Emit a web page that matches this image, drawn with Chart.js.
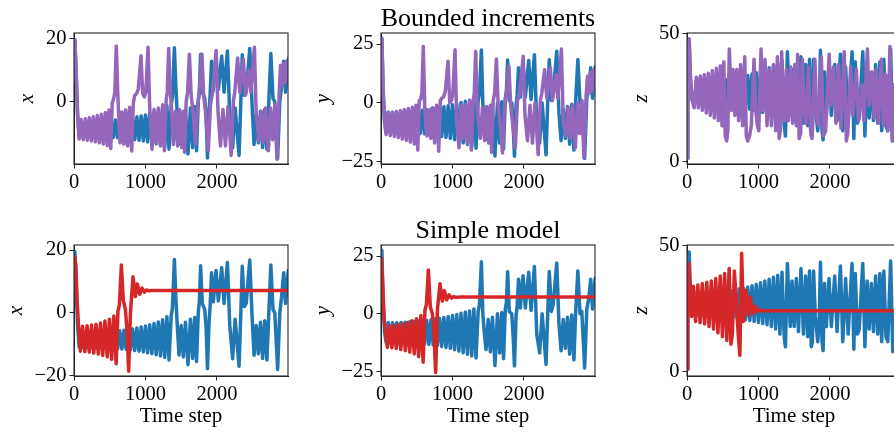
<!DOCTYPE html>
<html lang="en">
<head>
  <meta charset="UTF-8">
  <title>Bounded increments / Simple model</title>
  <script src="https://cdn.jsdelivr.net/npm/chart.js"></script>
  <style>
    html, body { margin: 0; padding: 0; background: #fff; overflow: hidden; width: 894px; height: 432px; }
    canvas { position: absolute; }
  </style>
</head>
<body>
  <canvas id="c1" width="298" height="200" style="left:0px;top:0px"></canvas>
  <canvas id="c2" width="298" height="200" style="left:307px;top:0px"></canvas>
  <canvas id="c3" width="298" height="200" style="left:613px;top:0px"></canvas>
  <canvas id="c4" width="298" height="221" style="left:0px;top:211px"></canvas>
  <canvas id="c5" width="298" height="221" style="left:307px;top:211px"></canvas>
  <canvas id="c6" width="298" height="221" style="left:613px;top:211px"></canvas>

  <script>
    // ---- data ----
    const xTicks = [0, 1000, 2000];
    const xTicksTopLeft = [0, 20];
    const xTicksBottomLeft = [-20, 0, 20];
    const yTicksAll = [-25, 0, 25];
    const zTicksAll = [0, 50];

    // true trajectory (blue), same in both rows
    const trueT = [0, 12, 30, 50, 72,
      100, 130, 160, 190, 220, 250, 280, 310, 340, 370, 400, 430, 460, 490, 520, 550, 580, 610, 640, 670, 700,
      730, 760, 790, 820, 850, 880, 910, 940, 970, 1000, 1030, 1060, 1090, 1120, 1150, 1180, 1210, 1240, 1270, 1300, 1330,
      1360, 1378, 1405, 1425, 1445, 1470, 1500, 1530, 1560, 1595, 1630, 1660, 1690, 1715, 1740, 1755, 1772, 1795, 1830,
      1850, 1868, 1890, 1905, 1925, 1950, 1988, 2020, 2067, 2100, 2147, 2180, 2220, 2255, 2310, 2335, 2355, 2385, 2410,
      2460, 2490, 2520, 2550, 2580, 2610, 2640, 2670, 2700, 2725, 2755, 2785, 2810, 2850, 2880, 2905, 2935, 2960, 2999];
    const trueX = [16, 19.5, 9, -4, -10.8,
      -6.3, -11.0, -6.4, -11.0, -6.4, -11.0, -6.3, -11.1, -6.2, -11.1, -6.1, -11.2, -6.0, -11.2, -5.9, -11.3, -5.8, -11.4,
      -5.7, -11.5, -5.5, -11.6, -5.3, -11.8, -5.1, -12.0, -4.8, -12.2, -4.5, -12.4, -4.2, -12.7, -3.8, -13.0, -3.4, -13.3,
      -2.9, -13.7, -2.2, -14.2, -1.2, -15.0,
      -1, 1.5, 17.0, 5, -4, -13.4, -4.0, -14.0, -3.0, -16.5, -2.0, -14.5, -1.5, -15.5, 0.5, 3.5, 15.0, 3, 1, -5, -17.8,
      -3, 2, 12.8, 3.5, 13.5, 3.8, 14.4, 3, 16.0, -4, -14.6, -2, -17.0, 0, 14.8, 2, 3, 16.8, 0, -13.5, -4, -13.0, -3,
      -14.5, -2.5, -15.0, -1, 15.2, 1, 0, -18.0, 0, 5, 12.8, 3, 13.5];
    const trueY = [26, 27.5, 5, -8, -12.5,
      -3.8, -12.4, -3.9, -12.4, -3.9, -12.5, -3.8, -12.6, -3.7, -12.6, -3.5, -12.7, -3.4, -12.8, -3.2, -12.9, -3.1, -13.1,
      -2.9, -13.3, -2.6, -13.5, -2.3, -13.8, -2.0, -14.2, -1.6, -14.6, -1.2, -15.0, -0.8, -15.6, -0.3, -16.2, 0.2, -16.9,
      0.7, -17.6, 1.2, -18.3, 2.0, -19.2,
      1, 4, 22.5, 0, -8, -15.5, -2.5, -16.5, -1.5, -22.5, 0, -17, 0.5, -19.5, 2, 5, 18.2, 1, 0, -10, -22.6,
      -1, 3, 15, 2.5, 16.5, 2.5, 18, 1.5, 20.5, -9, -17, 0, -22, 2, 18.3, 1, 4, 22.0, -4, -16, -2.5, -15, -1.5,
      -17.5, -0.5, -20, 1, 18.5, 0, 1, -23.5, 2, 6, 15.0, 2, 15.5];
    const trueZ = [1.3, 24, 47.5, 31, 24,
      22.5, 31, 22.5, 31, 22.4, 31.2, 22.3, 31.3, 22.2, 31.5, 22.1, 31.6, 22, 31.8, 21.8, 32, 21.6, 32.3,
      21.4, 32.6, 21.2, 33, 21, 33.3, 20.7, 33.7, 20.4, 34.2, 20, 34.7, 19.6, 35.3, 19.2, 36, 18.7, 36.7,
      18, 37.5, 17, 38.3, 15, 39.5,
      14, 10, 43, 30, 18, 36, 18, 37, 16, 41, 15, 38, 14, 40, 10, 12, 40, 22, 12, 20, 43.5,
      12, 8.5, 35, 18, 37, 18, 38, 16, 42, 12, 37, 15, 43, 9, 39, 15, 17, 43, 10, 36, 17, 35, 16,
      38, 15, 39, 12, 40, 14, 12, 44, 8, 12, 35, 17, 36];

    // bounded increments model (purple)
    const boundT = [0, 12, 30, 50, 72, 100, 130, 158, 186, 214, 242, 270, 298, 326, 354, 382, 410, 438, 466, 490,
      515, 535, 555, 572, 592, 612, 625, 645, 670, 697, 722, 750, 778, 808, 830, 850, 875, 900, 938, 962,
      985, 1005, 1036, 1060, 1092, 1120, 1150, 1180, 1210, 1240, 1265, 1290, 1305, 1325, 1345, 1365, 1390, 1420, 1450, 1478,
      1508, 1530, 1548, 1570, 1590, 1615, 1640, 1665, 1700, 1730, 1750, 1790, 1815, 1840, 1880, 1910, 1940, 1990, 2015, 2050,
      2085, 2120, 2155, 2200, 2230, 2250, 2290, 2320, 2370, 2400, 2450, 2475, 2525, 2550, 2590, 2620, 2650, 2680, 2720, 2750,
      2780, 2810, 2840, 2870, 2890, 2910, 2935, 2955, 2975, 2999];
    const boundX = [16, 19.7, 9, -4, -11.8, -5.6, -12.0, -5.4, -12.2, -5.1, -12.4, -4.8, -12.7, -4.4, -13.0, -4.0, -13.4, -3.4, -13.9, -2.6,
      -14.8, -0.5, 1, 3, 17.6, 3, -4, -13.0, -3.3, -13.4, -2.6, -14.0, -1.8, -15.6, -0.5, 2, 2.5, 4, 14.5, 2.5,
      1.5, 3, 17.2, -2, -15.0, -2.5, -13.0, -2.0, -14.0, -1.0, -15.5, 0.5, 3, 16.8, 4, -2, -13.5, -3.0, -14.0, -2.5,
      -14.5, -3, -16.0, 0, 3, 15.0, 2, -3, -13.5, -1, 2, 15.0, 2, -3, -15.5, -1, 3, 16.2, -3, -14.0,
      -2.5, -14.0, -1.5, -17.0, 0, 3, 13.8, 3, 13.4, 2, 10, 3, 17.2, -4, -12.5, -3, -13.0, -2, -15.5, -2,
      -12, -1, -18.2, 2, 11.5, 5, 12.0, 6, 12.8, 7];
    const boundY = [26, 27, 6, -8, -13.4, -4.2, -13.8, -4.0, -14.2, -3.6, -14.7, -3.2, -15.3, -2.8, -15.9, -2.3, -16.6, -1.8, -17.4, -1.0,
      -20.0, 1.0, 1.5, 4, 24.0, -2, -9, -14, -3, -15, -2, -17, -1, -20.5, 1, 2, 2.5, 5, 17.7, 0,
      1, 4, 22.6, -8, -19, -1, -15, -0.5, -17, 1, -20, 1, 4, 21.9, 0, -8, -15, -2, -16, -1.5,
      -17, -1, -21, 1, 4, 18.7, -1, -8, -21.2, 0, 3, 15.6, -1, -8, -19, 1, 4, 19.8, -5, -16,
      -1, -17, 0, -21.9, 1, 4, 14.1, 2, 15, 1, 12, 2, 22.9, -8, -14, -2, -15, -1, -19, 0,
      -13, 1, -23.3, 3, 11.3, 4, 13, 5, 14, 8];
    const boundZ = [1.3, 22, 48, 32, 24, 21, 33, 21, 33.5, 20, 34, 19, 34.5, 18, 35.5, 17, 36.5, 16, 37.5, 14,
      39, 10, 8, 12, 44, 30, 20, 36, 18, 36, 16, 38, 14, 41, 10, 8, 10, 14, 40, 20,
      14, 12, 44, 20, 40, 14, 36, 14, 38, 12, 41, 9, 12, 43, 25, 16, 36, 16, 37, 15,
      38, 14, 42, 9, 11, 40, 20, 15, 37, 12, 9, 40, 18, 14, 41, 10, 12, 42, 22, 37,
      15, 38, 13, 43, 8, 11, 37, 18, 36, 16, 30, 16, 44, 22, 35, 17, 36, 15, 40, 14,
      34, 12, 45, 8, 30, 20, 32, 22, 34, 25];

    // simple model (red)
    const simpleT = [0, 10, 25, 45, 65, 89, 120, 152, 183, 214, 246, 277, 308, 340, 371, 402, 433, 465, 496, 527,
      558, 590, 615, 635, 663, 690, 719, 740, 765, 790, 826, 859, 887, 919, 952, 985, 1015, 1050, 1100, 2999];
    const simpleX = [16.5, 17.8, 15.5, 3, -4.5, -12.2, -4.3, -12.3, -4.1, -12.5, -3.9, -12.8, -3.6, -13.1, -3.2, -13.5, -2.6, -14.0, -2.0, -14.8,
      -1.0, -16.2, 0.5, 2.5, 15.2, 4, 1.2, -5, -18.6, 0, 11.5, 5.2, 9.2, 5.9, 7.9, 6.6, 7.3, 7.0, 7.1, 7.1];
    const simpleY = [24, 22, 12, -3, -8, -14.6, -5.2, -14.8, -5.0, -15.1, -4.7, -15.5, -4.3, -16.0, -3.8, -16.6, -3.0, -17.4, -2.2, -18.6,
      -0.8, -21.0, 1.5, 4, 19.0, 3, 0, -8, -25.5, 2, 13.0, 5.5, 10, 6.0, 8.2, 6.8, 7.4, 7.1, 7.2, 7.2];
    const simpleZ = [1, 18, 43, 30, 22, 34, 20, 34.5, 19.5, 35, 19, 35.5, 18, 36, 17, 37, 15.5, 38, 14, 39,
      12.5, 41, 11, 15, 40, 28, 14, 6.6, 47, 20, 32.4, 22.5, 29.7, 23, 26, 23.8, 24.8, 24.2, 24.3, 24.3];

    // ---- drawing ----
    const FONT = "'Liberation Serif', 'Times New Roman', serif";
    const BLUE = '#1f77b4', PURPLE = '#9467bd', RED = '#d62728';
    const AXIS = '#262626';

    function pts(t, v) {
      return t.map((x, i) => ({ x: x, y: v[i] }));
    }
    function fmt(v) {
      return v < 0 ? '\u2212' + Math.abs(v) : String(v);
    }

    // box around the axes + optional panel title
    const frameTitle = {
      id: 'frameTitle',
      afterDraw(chart, args, o) {
        const { ctx, chartArea: a } = chart;
        ctx.save();
        ctx.strokeStyle = AXIS;
        ctx.lineWidth = 1.1;
        ctx.strokeRect(a.left, a.top, a.right - a.left, a.bottom - a.top);
        if (o.text) {
          ctx.font = '26px ' + FONT;
          ctx.fillStyle = '#000';
          ctx.textAlign = 'center';
          ctx.textBaseline = 'alphabetic';
          ctx.fillText(o.text, (a.left + a.right) / 2, a.top - 7.5);
        }
        ctx.restore();
      }
    };

    function panel(id, cfg) {
      const bottomRow = cfg.bottom;
      const line = { borderWidth: 3.5, borderJoinStyle: 'round', borderCapStyle: 'round' };
      new Chart(document.getElementById(id), {
        type: 'line',
        data: {
          datasets: [
            Object.assign({ data: pts(cfg.t2, cfg.v2), borderColor: cfg.c2 }, line),
            Object.assign({ data: pts(trueT, cfg.v1), borderColor: BLUE }, line)
          ]
        },
        options: {
          responsive: false,
          animation: false,
          devicePixelRatio: 1,
          events: [],
          elements: { point: { radius: 0 }, line: { tension: 0, fill: false } },
          layout: { padding: { top: bottomRow ? 34 : 33, right: 10, left: 0, bottom: 0 } },
          plugins: { legend: { display: false }, tooltip: { enabled: false }, frameTitle: { text: cfg.title || '' } },
          scales: {
            x: {
              type: 'linear', min: 0, max: 2995,
              afterBuildTicks: s => { s.ticks = xTicks.map(v => ({ value: v })); },
              afterFit: s => { s.height = bottomRow ? 56 : 36; },
              grid: { drawOnChartArea: false, drawTicks: true, tickLength: 4.5, color: AXIS, lineWidth: 1 },
              border: { display: true, color: AXIS, width: 1 },
              ticks: { color: '#000', font: { family: FONT, size: 20.5 }, padding: 2, maxRotation: 0, autoSkip: false, callback: v => fmt(v) },
              title: { display: bottomRow, text: 'Time step', color: '#000', font: { family: FONT, size: 21 }, padding: { top: 0, bottom: 3 } }
            },
            y: {
              type: 'linear', min: cfg.min, max: cfg.max,
              afterBuildTicks: s => { s.ticks = cfg.ticks.map(v => ({ value: v })); },
              afterFit: s => { s.width = 74; },
              grid: { drawOnChartArea: false, drawTicks: true, tickLength: 4.5, color: AXIS, lineWidth: 1 },
              border: { display: true, color: AXIS, width: 1 },
              ticks: { color: '#000', font: { family: FONT, size: 20.5 }, padding: 3, autoSkip: false, callback: v => fmt(v) },
              title: { display: true, text: cfg.label, color: '#000', font: { family: FONT, size: 21, style: 'italic' }, padding: { top: cfg.labelPad, bottom: 0 } }
            }
          }
        },
        plugins: [frameTitle]
      });
    }

    panel('c1', { t2: boundT, v2: boundX, c2: PURPLE, v1: trueX, min: -19.7, max: 21.7, ticks: xTicksTopLeft, label: 'x', labelPad: 14.4 });
    panel('c2', { t2: boundT, v2: boundY, c2: PURPLE, v1: trueY, min: -25.9, max: 29.7, ticks: yTicksAll, label: 'y', labelPad: 3.4, title: 'Bounded increments' });
    panel('c3', { t2: boundT, v2: boundZ, c2: PURPLE, v1: trueZ, min: -1.0, max: 50.3, ticks: zTicksAll, label: 'z', labelPad: 15.4 });
    panel('c4', { t2: simpleT, v2: simpleX, c2: RED, v1: trueX, min: -20.1, max: 21.6, ticks: xTicksBottomLeft, label: 'x', labelPad: 3.4, bottom: true });
    panel('c5', { t2: simpleT, v2: simpleY, c2: RED, v1: trueY, min: -27, max: 29.8, ticks: yTicksAll, label: 'y', labelPad: 3.4, bottom: true, title: 'Simple model' });
    panel('c6', { t2: simpleT, v2: simpleZ, c2: RED, v1: trueZ, min: -1.6, max: 50.3, ticks: zTicksAll, label: 'z', labelPad: 15.4, bottom: true });
  </script>
</body>
</html>
